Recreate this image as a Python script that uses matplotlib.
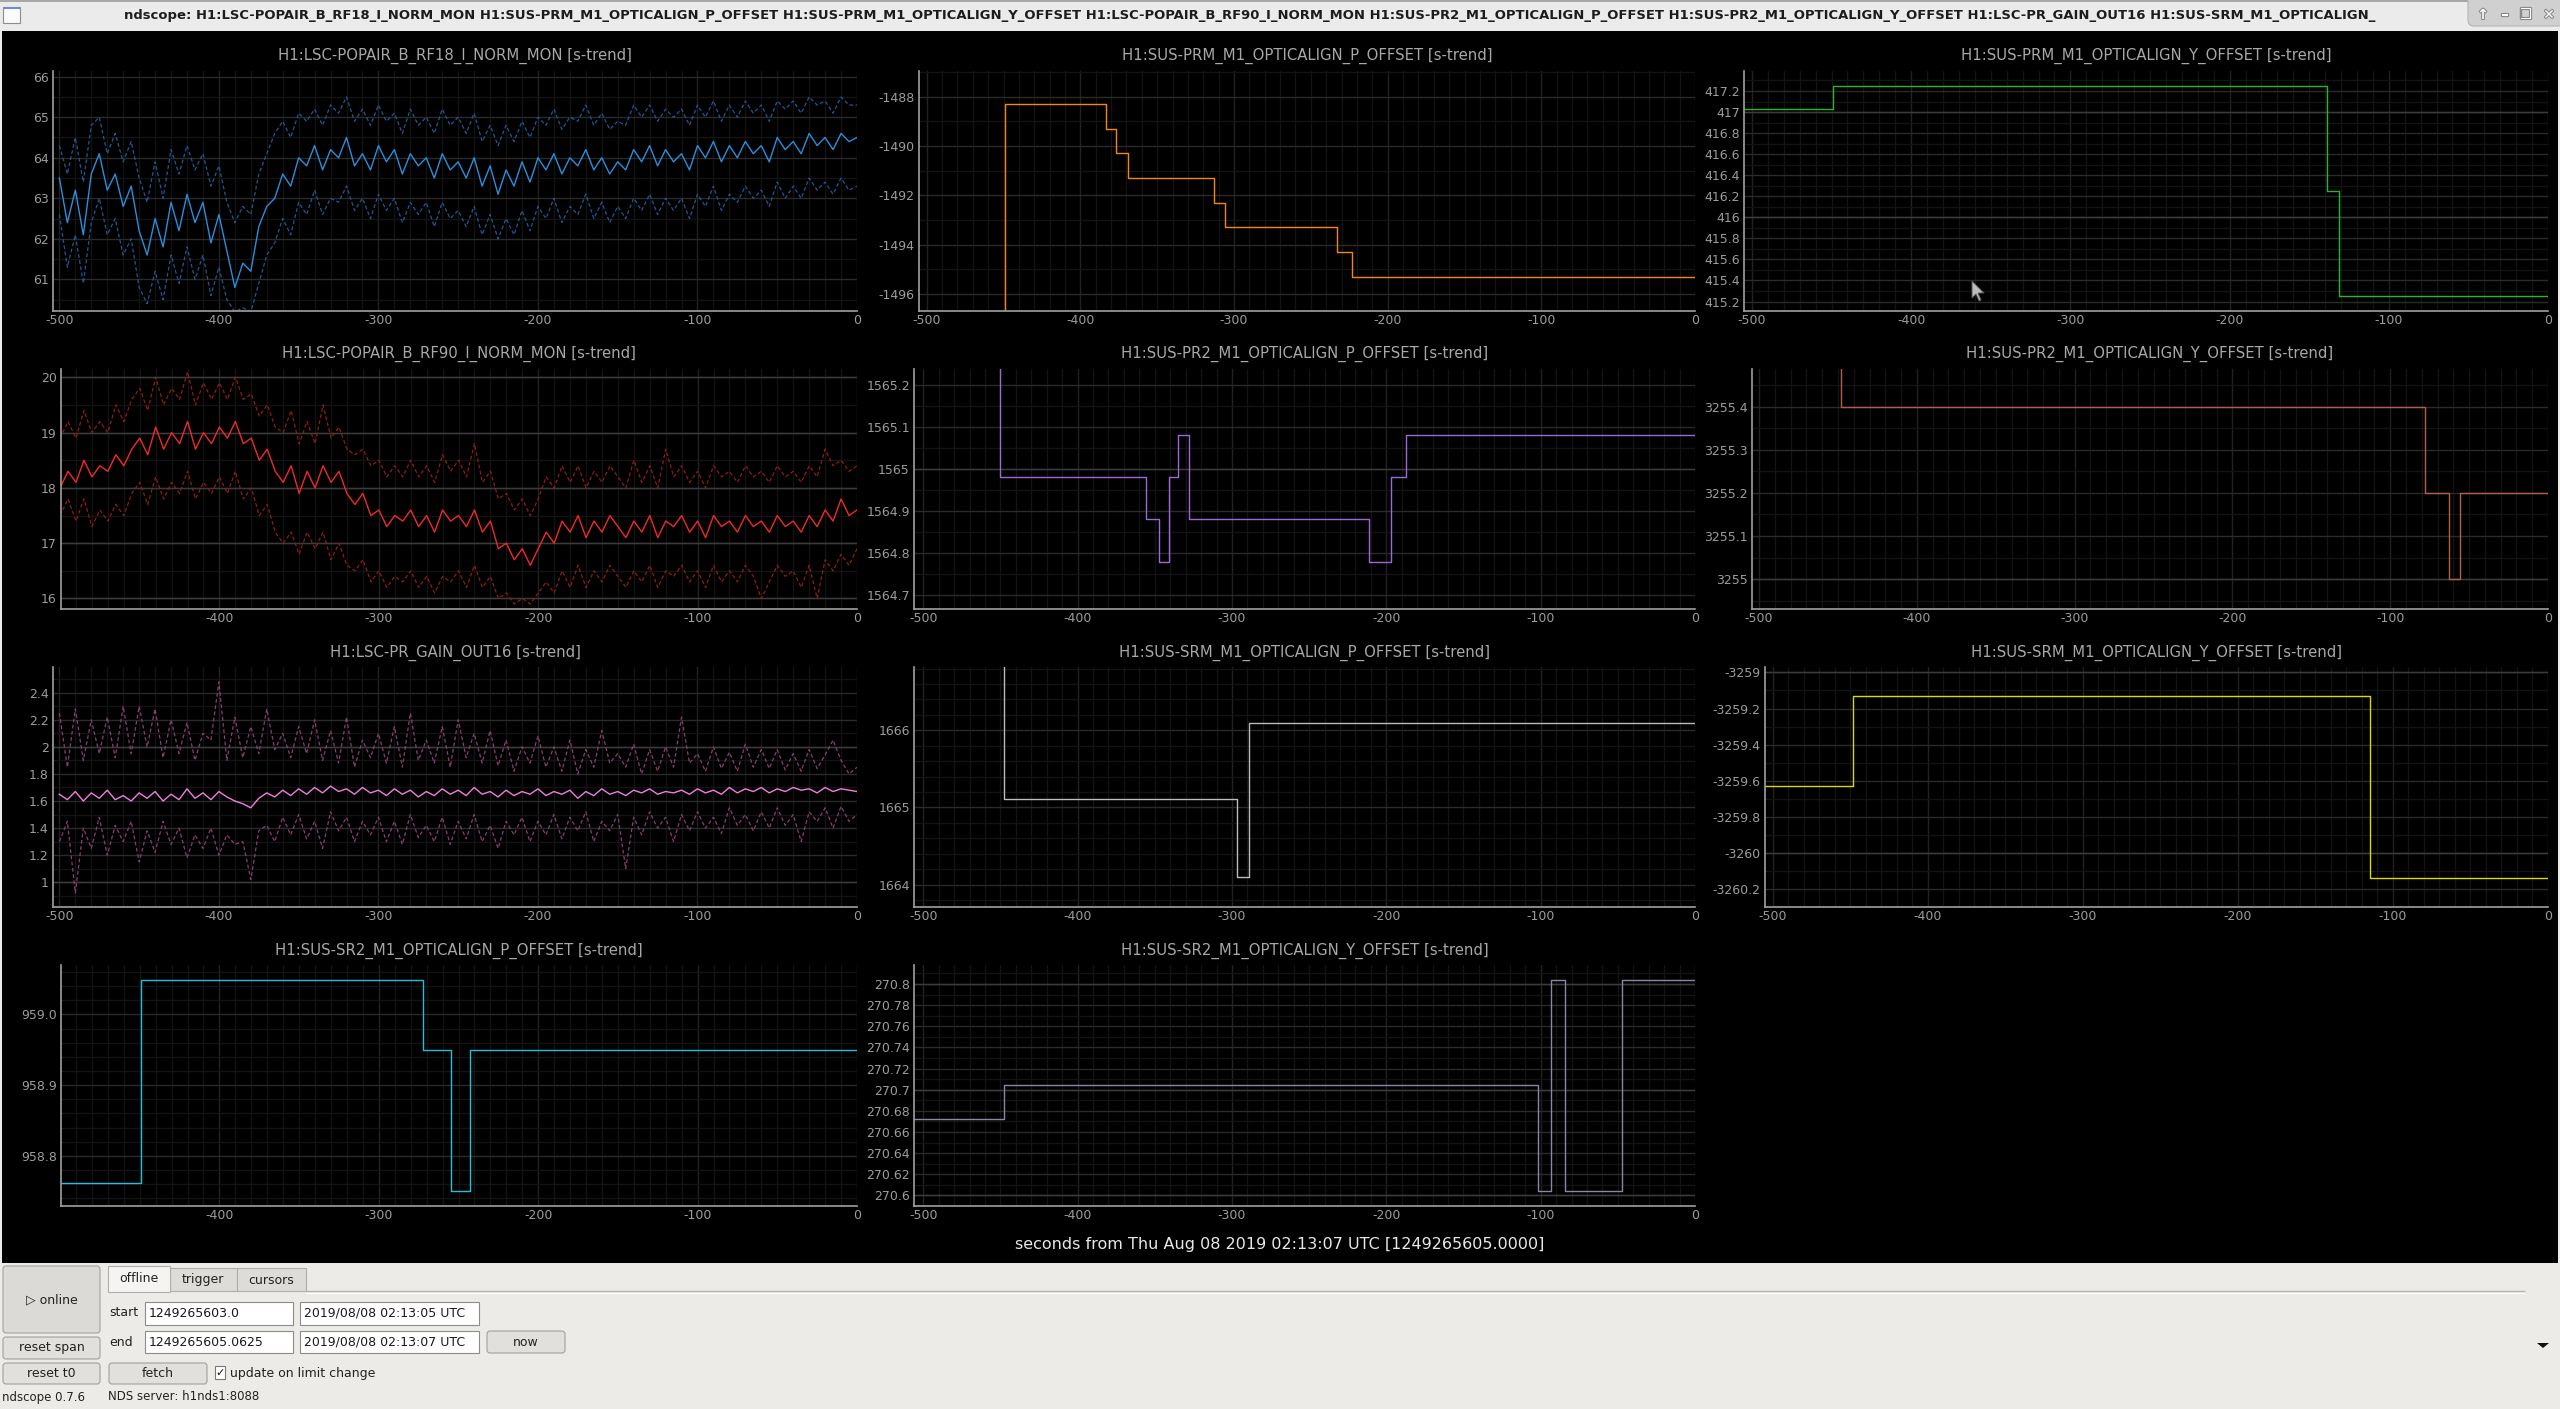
import numpy as np
import matplotlib
matplotlib.use('Agg')
import matplotlib.pyplot as plt
import matplotlib.patheffects as pe
from matplotlib.patches import Rectangle, FancyBboxPatch, Polygon
from matplotlib.ticker import MultipleLocator

W, H = 2560, 1409

# ---------------- data ----------------
channels = ['H1:LSC-POPAIR_B_RF18_I_NORM_MON', 'H1:SUS-PRM_M1_OPTICALIGN_P_OFFSET',
            'H1:SUS-PRM_M1_OPTICALIGN_Y_OFFSET', 'H1:LSC-POPAIR_B_RF90_I_NORM_MON',
            'H1:SUS-PR2_M1_OPTICALIGN_P_OFFSET', 'H1:SUS-PR2_M1_OPTICALIGN_Y_OFFSET',
            'H1:LSC-PR_GAIN_OUT16', 'H1:SUS-SRM_M1_OPTICALIGN_P_OFFSET',
            'H1:SUS-SRM_M1_OPTICALIGN_Y_OFFSET', 'H1:SUS-SR2_M1_OPTICALIGN_P_OFFSET',
            'H1:SUS-SR2_M1_OPTICALIGN_Y_OFFSET']

t5 = np.arange(-500, 1, 5)  # trend bins, seconds

rf18_mean = [63.5, 62.4, 63.2, 62.1, 63.6, 64.1, 63.2, 63.6, 62.8, 63.3,
             62.2, 61.6, 62.5, 61.8, 62.9, 62.2, 63.1, 62.4, 62.9, 61.9,
             62.6, 61.7, 60.8, 61.4, 61.2, 62.3, 62.8, 63.0, 63.6, 63.3,
             64.0, 63.8, 64.3, 63.7, 64.2, 64.0, 64.5, 63.8, 64.1, 63.7,
             64.3, 63.9, 64.2, 63.6, 64.1, 63.8, 64.0, 63.5, 64.1, 63.7,
             63.9, 63.5, 64.0, 63.3, 63.8, 63.1, 63.7, 63.3, 63.9, 63.4,
             64.0, 63.7, 64.1, 63.6, 64.0, 63.8, 64.2, 63.7, 64.0, 63.6,
             63.9, 63.7, 64.2, 63.9, 64.3, 63.8, 64.2, 63.9, 64.1, 63.7,
             64.3, 64.0, 64.4, 63.9, 64.3, 64.0, 64.4, 64.1, 64.3, 63.9,
             64.5, 64.2, 64.4, 64.1, 64.6, 64.3, 64.5, 64.2, 64.6, 64.4,
             64.5]
rf18_max = [64.3, 63.6, 64.5, 63.4, 64.8, 65.0, 64.1, 64.6, 63.9, 64.4,
            63.5, 62.9, 63.9, 63.0, 64.2, 63.6, 64.3, 63.7, 64.1, 63.3,
            63.8, 62.9, 62.4, 62.8, 62.6, 63.6, 64.1, 64.6, 64.9, 64.5,
            65.1, 64.9, 65.2, 64.8, 65.3, 65.1, 65.5, 64.9, 65.2, 64.8,
            65.3, 64.9, 65.1, 64.6, 65.2, 64.8, 65.0, 64.6, 65.2, 64.8,
            65.0, 64.6, 65.1, 64.4, 64.8, 64.3, 64.8, 64.4, 64.9, 64.5,
            65.0, 64.8, 65.2, 64.7, 65.0, 64.9, 65.3, 64.8, 65.1, 64.7,
            64.9, 64.8, 65.3, 65.0, 65.3, 64.9, 65.2, 65.0, 65.2, 64.8,
            65.3, 65.0, 65.4, 64.9, 65.3, 65.0, 65.4, 65.1, 65.3, 64.9,
            65.4, 65.2, 65.4, 65.1, 65.5, 65.3, 65.4, 65.1, 65.5, 65.3,
            65.3]
rf18_min = [62.6, 61.3, 62.1, 60.9, 62.4, 63.0, 62.1, 62.5, 61.6, 62.0,
            60.8, 60.4, 61.2, 60.5, 61.6, 60.9, 61.8, 61.0, 61.6, 60.6,
            61.3, 60.5, 60.2, 60.3, 60.2, 60.9, 61.6, 61.9, 62.5, 62.1,
            62.9, 62.6, 63.2, 62.6, 63.0, 62.9, 63.3, 62.7, 63.0, 62.5,
            63.1, 62.7, 63.0, 62.4, 62.9, 62.6, 62.9, 62.3, 62.9, 62.5,
            62.7, 62.3, 62.8, 62.1, 62.6, 62.0, 62.5, 62.1, 62.7, 62.2,
            62.8, 62.5, 63.0, 62.4, 62.8, 62.6, 63.1, 62.5, 62.9, 62.4,
            62.8, 62.5, 63.0, 62.7, 63.1, 62.6, 63.0, 62.7, 63.0, 62.5,
            63.1, 62.8, 63.3, 62.7, 63.1, 62.9, 63.3, 63.0, 63.2, 62.8,
            63.4, 63.0, 63.3, 63.0, 63.5, 63.2, 63.4, 63.1, 63.5, 63.2,
            63.3]

rf90_mean = [18.0, 18.3, 18.1, 18.5, 18.2, 18.4, 18.3, 18.6, 18.4, 18.7,
             18.9, 18.6, 19.1, 18.7, 19.0, 18.8, 19.2, 18.7, 19.0, 18.8,
             19.1, 18.9, 19.2, 18.8, 18.9, 18.5, 18.7, 18.3, 18.1, 18.4,
             17.9, 18.3, 18.0, 18.4, 18.1, 18.3, 17.9, 17.7, 17.9, 17.5,
             17.6, 17.3, 17.5, 17.4, 17.6, 17.3, 17.5, 17.2, 17.6, 17.4,
             17.5, 17.3, 17.6, 17.2, 17.4, 16.9, 17.0, 16.7, 16.9, 16.6,
             16.9, 17.2, 17.0, 17.4, 17.2, 17.5, 17.1, 17.4, 17.2, 17.5,
             17.3, 17.1, 17.4, 17.2, 17.5, 17.1, 17.4, 17.3, 17.5, 17.2,
             17.4, 17.1, 17.5, 17.3, 17.4, 17.2, 17.5, 17.3, 17.4, 17.2,
             17.5, 17.3, 17.4, 17.2, 17.5, 17.3, 17.6, 17.4, 17.8, 17.5,
             17.6]
rf90_max = [18.9, 19.2, 18.9, 19.4, 19.0, 19.2, 19.0, 19.5, 19.2, 19.6,
            19.8, 19.4, 20.0, 19.5, 19.8, 19.6, 20.1, 19.5, 19.9, 19.6,
            19.9, 19.6, 20.0, 19.6, 19.7, 19.3, 19.5, 19.1, 19.0, 19.4,
            18.8, 19.2, 18.8, 19.5, 18.9, 19.1, 18.7, 18.6, 18.7, 18.4,
            18.5, 18.2, 18.4, 18.2, 18.5, 18.2, 18.4, 18.1, 18.6, 18.3,
            18.5, 18.2, 18.8, 18.1, 18.3, 17.8, 17.9, 17.6, 17.8, 17.5,
            17.8, 18.2, 18.0, 18.4, 18.1, 18.4, 18.0, 18.3, 18.1, 18.4,
            18.2, 18.0, 18.5, 18.1, 18.4, 18.0, 18.7, 18.2, 18.4, 18.1,
            18.3, 18.0, 18.4, 18.2, 18.3, 18.1, 18.4, 18.2, 18.3, 18.1,
            18.4, 18.2, 18.3, 18.1, 18.4, 18.2, 18.7, 18.4, 18.5, 18.3,
            18.4]
rf90_min = [17.5, 17.8, 17.4, 17.8, 17.3, 17.6, 17.4, 17.7, 17.5, 17.9,
            18.1, 17.7, 18.2, 17.8, 18.1, 17.9, 18.3, 17.8, 18.1, 17.9,
            18.2, 17.9, 18.3, 17.8, 18.0, 17.5, 17.7, 17.2, 17.0, 17.2,
            16.8, 17.2, 16.9, 17.2, 16.7, 17.0, 16.6, 16.5, 16.7, 16.3,
            16.5, 16.2, 16.4, 16.3, 16.5, 16.2, 16.4, 16.1, 16.4, 16.3,
            16.5, 16.2, 16.6, 16.2, 16.4, 16.0, 16.1, 15.9, 16.0, 15.9,
            16.1, 16.3, 16.1, 16.5, 16.2, 16.6, 16.2, 16.5, 16.3, 16.6,
            16.4, 16.2, 16.5, 16.3, 16.6, 16.2, 16.5, 16.4, 16.6, 16.3,
            16.5, 16.2, 16.6, 16.3, 16.5, 16.3, 16.6, 16.4, 16.0, 16.3,
            16.6, 16.4, 16.5, 16.2, 16.6, 16.0, 16.7, 16.5, 16.8, 16.6,
            16.9]

prgain_mean = [1.65, 1.61, 1.67, 1.60, 1.66, 1.62, 1.68, 1.61, 1.64, 1.60,
               1.66, 1.62, 1.67, 1.60, 1.65, 1.61, 1.69, 1.62, 1.66, 1.61,
               1.67, 1.63, 1.60, 1.58, 1.55, 1.62, 1.66, 1.63, 1.68, 1.64,
               1.69, 1.65, 1.70, 1.66, 1.71, 1.67, 1.69, 1.65, 1.70, 1.66,
               1.68, 1.64, 1.69, 1.65, 1.68, 1.63, 1.67, 1.64, 1.69, 1.65,
               1.68, 1.64, 1.70, 1.65, 1.67, 1.63, 1.68, 1.64, 1.67, 1.65,
               1.69, 1.64, 1.67, 1.65, 1.68, 1.62, 1.67, 1.64, 1.69, 1.65,
               1.67, 1.64, 1.68, 1.66, 1.69, 1.65, 1.67, 1.66, 1.68, 1.65,
               1.69, 1.66, 1.68, 1.65, 1.70, 1.66, 1.69, 1.67, 1.70, 1.66,
               1.69, 1.67, 1.70, 1.68, 1.69, 1.66, 1.70, 1.67, 1.69, 1.68,
               1.67]
prgain_max = [2.25, 1.85, 2.28, 1.90, 2.20, 1.95, 2.22, 1.92, 2.30, 1.95,
              2.30, 2.00, 2.28, 1.92, 2.20, 1.95, 2.18, 1.90, 2.10, 2.05,
              2.48, 1.90, 2.22, 1.92, 2.15, 1.95, 2.28, 1.98, 2.10, 1.92,
              2.15, 1.95, 2.20, 1.90, 2.12, 1.88, 2.22, 1.85, 2.05, 1.92,
              2.10, 1.88, 2.15, 1.85, 2.25, 1.90, 2.05, 1.88, 2.15, 1.85,
              2.20, 1.92, 2.10, 1.88, 2.12, 1.86, 2.05, 1.82, 2.00, 1.88,
              2.08, 1.85, 2.00, 1.82, 2.05, 1.80, 1.98, 1.85, 2.12, 1.88,
              1.95, 1.85, 2.02, 1.80, 1.98, 1.82, 2.00, 1.85, 2.22, 1.88,
              1.95, 1.82, 2.00, 1.84, 1.96, 1.82, 2.02, 1.85, 1.98, 1.84,
              1.98, 1.83, 1.95, 1.82, 1.98, 1.84, 1.94, 2.05, 1.90, 1.80,
              1.85]
prgain_min = [1.30, 1.45, 0.92, 1.40, 1.25, 1.48, 1.20, 1.42, 1.30, 1.45,
              1.15, 1.38, 1.22, 1.45, 1.28, 1.40, 1.18, 1.35, 1.25, 1.40,
              1.20, 1.35, 1.28, 1.30, 1.02, 1.38, 1.42, 1.30, 1.48, 1.35,
              1.50, 1.32, 1.45, 1.25, 1.52, 1.38, 1.48, 1.30, 1.45, 1.35,
              1.48, 1.30, 1.45, 1.28, 1.50, 1.33, 1.42, 1.30, 1.48, 1.28,
              1.45, 1.32, 1.50, 1.30, 1.42, 1.25, 1.45, 1.35, 1.48, 1.30,
              1.45, 1.35, 1.50, 1.32, 1.48, 1.38, 1.52, 1.30, 1.45, 1.38,
              1.50, 1.10, 1.48, 1.35, 1.52, 1.40, 1.48, 1.30, 1.50, 1.38,
              1.52, 1.40, 1.48, 1.36, 1.55, 1.42, 1.50, 1.38, 1.52, 1.40,
              1.55, 1.42, 1.50, 1.30, 1.52, 1.45, 1.55, 1.40, 1.56, 1.45,
              1.50]

# step-like alignment offsets: change times (s) and levels
prm_p_t = [-505, -449, -383, -377, -369, -313, -306, -233, -223, 0]
prm_p_v = [-1497.5, -1488.3, -1489.3, -1490.3, -1491.3, -1492.3, -1493.3, -1494.3, -1495.3, -1495.3]
prm_y_t = [-505, -449, -139, -131, 0]
prm_y_v = [417.03, 417.25, 416.25, 415.25, 415.25]
pr2_p_t = [-506, -450, -356, -347, -341, -335, -328, -211, -197, -187, 0]
pr2_p_v = [1565.3, 1564.98, 1564.88, 1564.78, 1564.98, 1565.08, 1564.88, 1564.78, 1564.98, 1565.08, 1565.08]
pr2_y_t = [-505, -448, -78, -63, -56, 0]
pr2_y_v = [3255.6, 3255.4, 3255.2, 3255.0, 3255.2, 3255.2]
srm_p_t = [-506, -448, -297, -289, 0]
srm_p_v = [1667.0, 1665.11, 1664.1, 1666.1, 1666.1]
srm_y_t = [-505, -448, -115, 0]
srm_y_v = [-3259.63, -3259.13, -3260.14, -3260.14]
sr2_p_t = [-500, -449, -272, -255, -243, 0]
sr2_p_v = [958.761, 959.049, 958.95, 958.75, 958.95, 958.95]
sr2_y_t = [-506, -448, -102, -93, -84, -47, 0]
sr2_y_v = [270.672, 270.704, 270.604, 270.804, 270.604, 270.804, 270.804]

x_ticks = [-500, -400, -300, -200, -100, 0]
x_labels = ['-500', '-400', '-300', '-200', '-100', '0']

rf18_ticks = [61, 62, 63, 64, 65, 66]
rf18_labels = ['61', '62', '63', '64', '65', '66']
prm_p_ticks = [-1496, -1494, -1492, -1490, -1488]
prm_p_labels = ['-1496', '-1494', '-1492', '-1490', '-1488']
prm_y_ticks = [415.2, 415.4, 415.6, 415.8, 416, 416.2, 416.4, 416.6, 416.8, 417, 417.2]
prm_y_labels = ['415.2', '415.4', '415.6', '415.8', '416', '416.2', '416.4', '416.6', '416.8', '417', '417.2']
rf90_ticks = [16, 17, 18, 19, 20]
rf90_labels = ['16', '17', '18', '19', '20']
pr2_p_ticks = [1564.7, 1564.8, 1564.9, 1565, 1565.1, 1565.2]
pr2_p_labels = ['1564.7', '1564.8', '1564.9', '1565', '1565.1', '1565.2']
pr2_y_ticks = [3255, 3255.1, 3255.2, 3255.3, 3255.4]
pr2_y_labels = ['3255', '3255.1', '3255.2', '3255.3', '3255.4']
prgain_ticks = [1, 1.2, 1.4, 1.6, 1.8, 2, 2.2, 2.4]
prgain_labels = ['1', '1.2', '1.4', '1.6', '1.8', '2', '2.2', '2.4']
srm_p_ticks = [1664, 1665, 1666]
srm_p_labels = ['1664', '1665', '1666']
srm_y_ticks = [-3260.2, -3260, -3259.8, -3259.6, -3259.4, -3259.2, -3259]
srm_y_labels = ['-3260.2', '-3260', '-3259.8', '-3259.6', '-3259.4', '-3259.2', '-3259']
sr2_p_ticks = [958.8, 958.9, 959.0]
sr2_p_labels = ['958.8', '958.9', '959.0']
sr2_y_ticks = [270.6, 270.62, 270.64, 270.66, 270.68, 270.7, 270.72, 270.74, 270.76, 270.78, 270.8]
sr2_y_labels = ['270.6', '270.62', '270.64', '270.66', '270.68', '270.7', '270.72', '270.74',
                '270.76', '270.78', '270.8']

# ---------------- panels ----------------
# rect = pixel box (x0, y0, x1, y1), ty = pixel row of the title
panels = [
    dict(ch=0, rect=(53, 71, 857, 311), ty=56, xlim=(-504, 0), ylim=(60.22, 66.14),
         yt=rf18_ticks, yl=rf18_labels, ymin=0.5, bright=[],
         trend=(rf18_mean, rf18_min, rf18_max), c='#2a8fdc', ce='#1d5a90'),
    dict(ch=1, rect=(919, 71, 1695, 311), ty=56, xlim=(-505, 0), ylim=(-1496.69, -1486.96),
         yt=prm_p_ticks, yl=prm_p_labels, ymin=1, bright=[],
         step=(prm_p_t, prm_p_v), c='#f5870f'),
    dict(ch=2, rect=(1744, 71, 2548, 311), ty=56, xlim=(-505, 0), ylim=(415.11, 417.39),
         yt=prm_y_ticks, yl=prm_y_labels, ymin=0.1, bright=[416, 417],
         step=(prm_y_t, prm_y_v), c='#2db42d'),
    dict(ch=3, rect=(61, 369, 857, 609), ty=354, xlim=(-499.4, 0), ylim=(15.81, 20.15),
         yt=rf90_ticks, yl=rf90_labels, ymin=0.5, bright=[16, 17, 18, 19, 20],
         trend=(rf90_mean, rf90_min, rf90_max), c='#f02a2a', ce='#8e1c1c'),
    dict(ch=4, rect=(914, 369, 1695, 609), ty=354, xlim=(-506, 0), ylim=(1564.667, 1565.238),
         yt=pr2_p_ticks, yl=pr2_p_labels, ymin=0.05, bright=[1565],
         step=(pr2_p_t, pr2_p_v), c='#9a6ad6'),
    dict(ch=5, rect=(1752, 369, 2548, 609), ty=354, xlim=(-504.5, 0), ylim=(3254.931, 3255.487),
         yt=pr2_y_ticks, yl=pr2_y_labels, ymin=0.05, bright=[3255],
         step=(pr2_y_t, pr2_y_v), c='#b85c4a'),
    dict(ch=6, rect=(53, 667, 857, 907), ty=653, xlim=(-504, 0), ylim=(0.817, 2.59),
         yt=prgain_ticks, yl=prgain_labels, ymin=0.1, bright=[1, 2],
         trend=(prgain_mean, prgain_min, prgain_max), c='#f27ee0', ce='#86406f'),
    dict(ch=7, rect=(914, 667, 1695, 907), ty=653, xlim=(-506, 0), ylim=(1663.71, 1666.82),
         yt=srm_p_ticks, yl=srm_p_labels, ymin=0.2, bright=[],
         step=(srm_p_t, srm_p_v), c='#bcbcbc'),
    dict(ch=8, rect=(1765, 667, 2548, 907), ty=653, xlim=(-505, 0), ylim=(-3260.30, -3258.97),
         yt=srm_y_ticks, yl=srm_y_labels, ymin=0.1, bright=[-3260, -3259],
         step=(srm_y_t, srm_y_v), c='#dada00'),
    dict(ch=9, rect=(61, 965, 857, 1206), ty=951, xlim=(-499.4, 0), ylim=(958.729, 959.07),
         yt=sr2_p_ticks, yl=sr2_p_labels, ymin=0.02, bright=[],
         step=(sr2_p_t, sr2_p_v), c='#22bfdc'),
    dict(ch=10, rect=(914, 965, 1695, 1206), ty=951, xlim=(-506, 0), ylim=(270.590, 270.818),
         yt=sr2_y_ticks, yl=sr2_y_labels, ymin=0.01, bright=[270.6, 270.7, 270.8],
         step=(sr2_y_t, sr2_y_v), c='#8888a6'),
]


def frac(x0, y0, x1, y1):
    return [x0 / W, 1 - y1 / H, (x1 - x0) / W, (y1 - y0) / H]


fig = plt.figure(figsize=(W / 100, H / 100), dpi=100, facecolor='#edebe7')
bg = fig.add_axes([0, 0, 1, 1], zorder=0)
bg.set_xlim(0, W)
bg.set_ylim(H, 0)
bg.axis('off')

# black scope area
bg.add_patch(Rectangle((2, 31), 2556, 1232, fc='black', ec='none'))

for p in panels:
    x0, y0, x1, y1 = p['rect']
    ax = fig.add_axes(frac(x0, y0, x1, y1), zorder=1)
    ax.set_facecolor('black')
    for s in ['top', 'right']:
        ax.spines[s].set_visible(False)
    for s in ['left', 'bottom']:
        ax.spines[s].set_color('#a0a0a0')
        ax.spines[s].set_linewidth(1.2)
    ax.set_xticks(x_ticks, x_labels)
    ax.xaxis.set_minor_locator(MultipleLocator(10))
    ax.set_yticks(p['yt'], p['yl'])
    ax.yaxis.set_minor_locator(MultipleLocator(p['ymin']))
    ax.tick_params(which='both', length=0, colors='#9c9c9c', labelsize=9)
    ax.tick_params(axis='x', pad=2)
    ax.tick_params(axis='y', pad=3)
    ax.set_axisbelow(True)
    ax.grid(which='major', axis='y', color='#2a2a2a', lw=1)
    ax.grid(which='major', axis='x', color='#222222', lw=1)
    ax.grid(which='minor', color='#131313', lw=1)
    for b in p['bright']:
        ax.axhline(b, color='#3c3c3c', lw=1, zorder=0.6)

    if 'trend' in p:
        mean, lo, hi = p['trend']
        ax.plot(t5, hi, color=p['ce'], lw=0.9, ls=(0, (3, 2)))
        ax.plot(t5, lo, color=p['ce'], lw=0.9, ls=(0, (3, 2)))
        ax.plot(t5, mean, color=p['c'], lw=1.0)
    else:
        tt, vv = p['step']
        ax.plot(tt, vv, color=p['c'], lw=1.0, drawstyle='steps-post')

    ax.set_xlim(*p['xlim'])
    ax.set_ylim(*p['ylim'])

    bg.text((x0 + x1) / 2, p['ty'], channels[p['ch']] + ' [s-trend]', ha='center', va='center',
            fontsize=10.7, color='#a8a8a8')

bg.text(1280, 1245, 'seconds from Thu Aug 08 2019 02:13:07 UTC [1249265605.0000]',
        ha='center', va='center', fontsize=11.5, color='#e8e8e8')

# ---------------- window title bar ----------------
bg.add_patch(Rectangle((0, 0), W, 31, fc='#ebebeb', ec='none'))
bg.add_patch(Rectangle((0, 0), W, 2, fc='#a8a8a8', ec='none'))
bg.add_patch(Rectangle((3, 7), 17, 16, fc='#fafafa', ec='#8c8c8c', lw=0.8))
bg.add_patch(Rectangle((3, 7), 17, 2, fc='#6d8fc6', ec='none'))
title = 'ndscope: ' + ' '.join(channels[:7]) + ' ' + channels[7][:25]
tt_txt = bg.text(124, 16, title, ha='left', va='center', fontsize=9, fontweight='bold', color='#1c1c1c')
fig.canvas.draw()
w = tt_txt.get_window_extent().width
tt_txt.set_fontsize(9 * 2246 / w)

bg.add_patch(FancyBboxPatch((2468, -6), 100, 32, boxstyle='round,pad=0,rounding_size=6',
                            fc='#d0d0d0', ec='#b4b4b4', lw=0.8))
for x, s in zip([2483, 2505, 2526, 2549], ['\u2191', '\u2013', '\u2750', '\u2715']):
    bg.text(x, 15, s, ha='center', va='center', fontsize=10, fontweight='bold', color='white',
            path_effects=[pe.withStroke(linewidth=1.6, foreground='#8a8a8a')])

# ---------------- control panel ----------------
def button(x0, y0, x1, y1, label, fc='#e2e0dc'):
    bg.add_patch(FancyBboxPatch((x0, y0), x1 - x0, y1 - y0, boxstyle='round,pad=0,rounding_size=3',
                                fc=fc, ec='#a3a19d', lw=0.8))
    bg.text((x0 + x1) / 2, (y0 + y1) / 2, label, ha='center', va='center', fontsize=9, color='#222222')


def entry(x0, y0, x1, y1, label):
    bg.add_patch(Rectangle((x0, y0), x1 - x0, y1 - y0, fc='white', ec='#8e8c88', lw=0.8))
    bg.text(x0 + 4, (y0 + y1) / 2, label, ha='left', va='center', fontsize=9, color='#1a1a1a')


button(3, 1266, 100, 1333, '\u25b7 online', fc='#dcdad6')
button(3, 1337, 100, 1359, 'reset span')
button(3, 1363, 100, 1384, 'reset t0')

bg.plot([306, 2524], [1291, 1291], color='#b6b4b0', lw=1)
bg.plot([306, 2524], [1292.5, 1292.5], color='#ffffff', lw=0.8)
bg.add_patch(Rectangle((170, 1268), 67, 23, fc='#dedcd8', ec='#b0aeaa', lw=0.8))
bg.add_patch(Rectangle((237, 1268), 69, 23, fc='#dedcd8', ec='#b0aeaa', lw=0.8))
bg.add_patch(Rectangle((108, 1266), 62, 26, fc='#f5f4f2', ec='#b0aeaa', lw=0.8))
bg.text(139, 1279, 'offline', ha='center', va='center', fontsize=9, color='#222222')
bg.text(203, 1280, 'trigger', ha='center', va='center', fontsize=9, color='#222222')
bg.text(271, 1280, 'cursors', ha='center', va='center', fontsize=9, color='#222222')

bg.text(109, 1313, 'start', ha='left', va='center', fontsize=9, color='#222222')
entry(145, 1302, 293, 1325, '1249265603.0')
entry(300, 1302, 479, 1325, '2019/08/08 02:13:05 UTC')
bg.text(109, 1342, 'end', ha='left', va='center', fontsize=9, color='#222222')
entry(145, 1331, 293, 1353, '1249265605.0625')
entry(300, 1331, 479, 1353, '2019/08/08 02:13:07 UTC')
button(487, 1331, 565, 1353, 'now')

button(109, 1363, 207, 1384, 'fetch')
bg.add_patch(Rectangle((215, 1366), 10, 13, fc='white', ec='#7a7874', lw=0.8))
bg.text(220, 1373, '\u2713', ha='center', va='center', fontsize=8, color='#111111')
bg.text(230, 1374, 'update on limit change', ha='left', va='center', fontsize=9, color='#222222')

bg.text(2, 1397, 'ndscope 0.7.6', ha='left', va='center', fontsize=8.5, color='#222222')
bg.text(108, 1397, 'NDS server: h1nds1:8088', ha='left', va='center', fontsize=8.5, color='#222222')
bg.add_patch(Polygon([[2537, 1343], [2549, 1343], [2543, 1348]], closed=True, fc='#111111', ec='none'))

# mouse pointer left on the screen
top = fig.add_axes([0, 0, 1, 1], zorder=5)
top.set_xlim(0, W)
top.set_ylim(H, 0)
top.axis('off')
top.patch.set_alpha(0)
top.add_patch(Polygon([[1972, 281], [1972, 298], [1976, 294], [1979, 301], [1981, 300],
                       [1978, 293], [1984, 293]], closed=True, fc='#bdbdbd', ec='#555555', lw=0.7))

fig.savefig('out.png', dpi=100, facecolor=fig.get_facecolor())
